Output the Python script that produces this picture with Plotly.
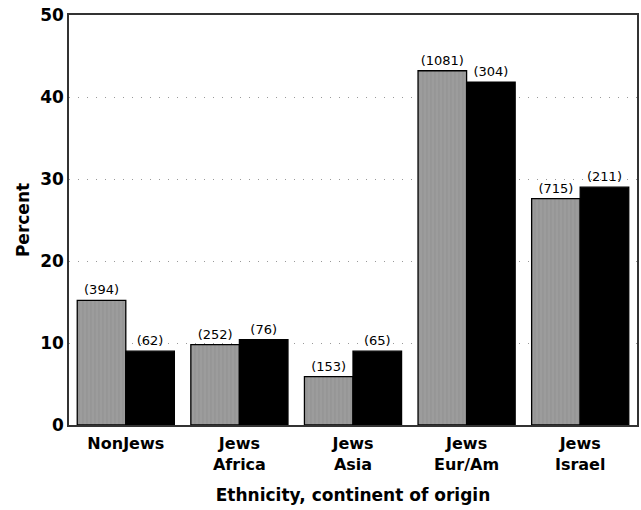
import plotly.graph_objects as go

categories = ["NonJews", "Jews<br>Africa", "Jews<br>Asia", "Jews<br>Eur/Am", "Jews<br>Israel"]
gray_values = [15.2, 9.8, 5.9, 43.2, 27.6]
black_values = [9.0, 10.4, 9.0, 41.8, 29.0]
gray_counts = ["(394)", "(252)", "(153)", "(1081)", "(715)"]
black_counts = ["(62)", "(76)", "(65)", "(304)", "(211)"]
y_ticks = [0, 10, 20, 30, 40, 50]

font = "DejaVu Sans, Verdana, sans-serif"

fig = go.Figure()
fig.add_trace(go.Bar(
    x=categories, y=gray_values, text=gray_counts, textposition="outside",
    marker=dict(color="#9c9c9c", line=dict(color="black", width=1.3),
                pattern=dict(shape="|", fgcolor="#878787", size=4, solidity=0.3)),
    textfont=dict(family=font, size=13, color="black"), cliponaxis=False,
    showlegend=False,
))
fig.add_trace(go.Bar(
    x=categories, y=black_values, text=black_counts, textposition="outside",
    marker=dict(color="black", line=dict(color="black", width=1.3)),
    textfont=dict(family=font, size=13, color="black"), cliponaxis=False,
    showlegend=False,
))

fig.update_layout(
    width=641, height=510,
    margin=dict(l=69, r=4, t=15, b=85),
    paper_bgcolor="white", plot_bgcolor="white",
    barmode="group", bargap=0.145, bargroupgap=0,
    font=dict(family=font, color="black"),
    xaxis=dict(
        automargin=False,
        showline=True, linecolor="#333", linewidth=1.5, mirror=True,
        showgrid=False, ticks="", ticklabelstandoff=3,
        tickfont=dict(family=font, size=16, color="black", weight="bold"),
        title=dict(text="Ethnicity, continent of origin",
                   font=dict(family=font, size=17, color="black", weight="bold"),
                   standoff=16),
    ),
    yaxis=dict(
        automargin=False, ticklabeloverflow="allow",
        range=[0, 50], tickvals=y_ticks,
        showline=True, linecolor="#333", linewidth=1.5, mirror=True,
        showgrid=True, gridcolor="#999999", griddash="1px,8px", gridwidth=1,
        zeroline=False, ticks="",
        tickfont=dict(family=font, size=17, color="black", weight="bold"),
        title=dict(text="Percent",
                   font=dict(family=font, size=17, color="black", weight="bold"),
                   standoff=6),
    ),
)

# remove the browser's default 8px body margin so the figure fills the window
fig.write_html(
    "out.html",
    config={"displayModeBar": False},
    post_script="document.body.style.margin='0';document.body.style.overflow='hidden';",
)
